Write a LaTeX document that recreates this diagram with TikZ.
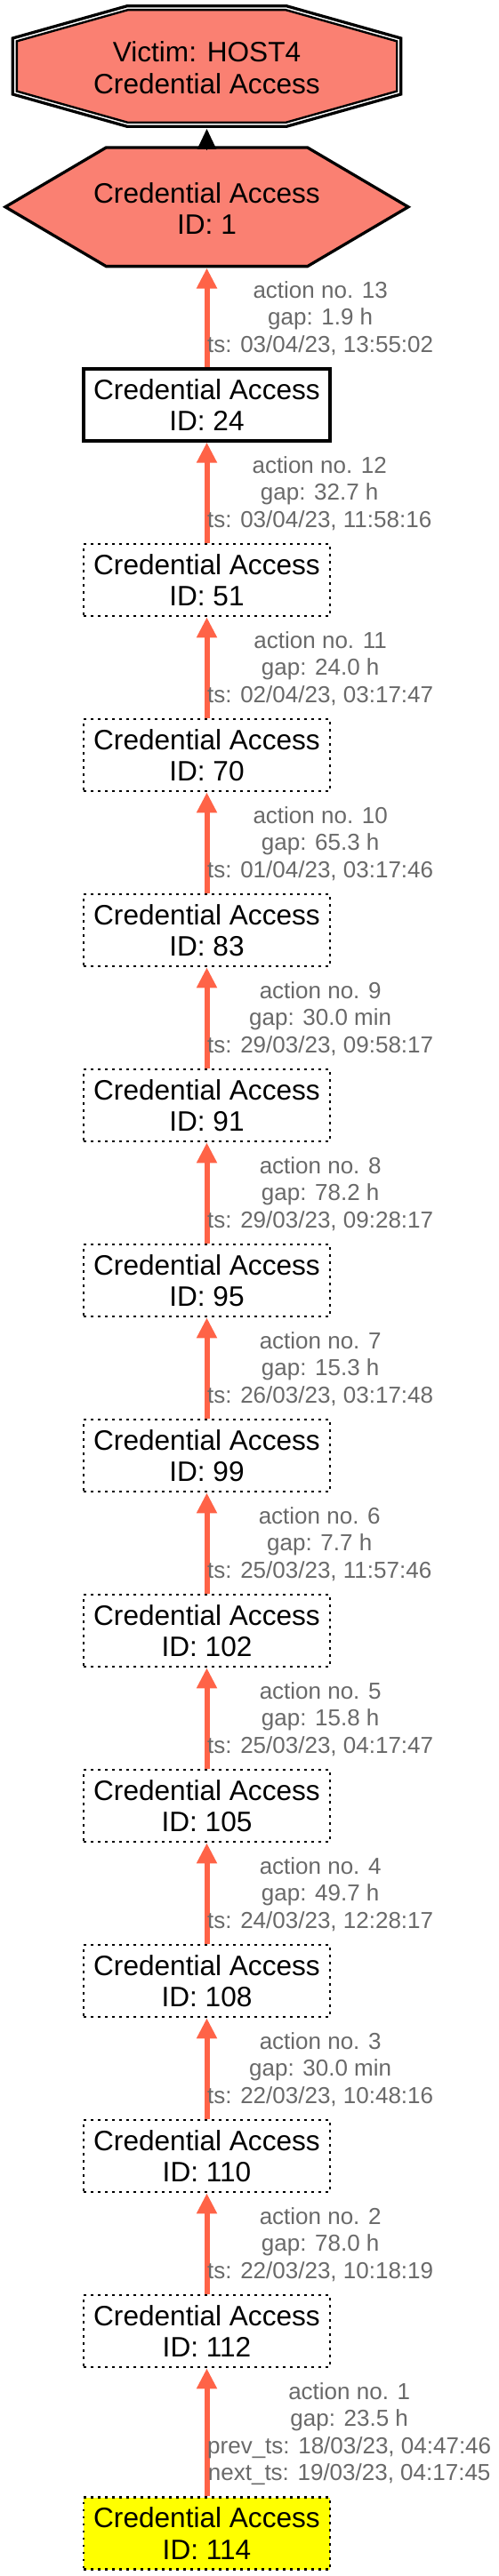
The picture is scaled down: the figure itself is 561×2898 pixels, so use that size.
\documentclass[tikz,border=0pt]{standalone}
\usepackage{fontspec}
\setmainfont{Liberation Sans}
\usetikzlibrary{arrows.meta}
\definecolor{salmonc}{HTML}{FA8072}
\definecolor{tomatoc}{HTML}{FF6347}
\definecolor{lblgray}{HTML}{696969}
\definecolor{yellowc}{HTML}{FFFF00}
\newcommand\mainf{\fontsize{31.6}{35.5}\selectfont}
\newcommand\lblf{\fontsize{26}{30.5}\selectfont}
\tikzset{
  boxbase/.style={rectangle, minimum width=277pt, minimum height=81pt, inner sep=0pt, align=center, font=\mainf},
  dotbox/.style={boxbase, draw=black, line width=2.7pt, dash pattern=on 2.7pt off 5.3pt},
  solidbox/.style={boxbase, draw=black, line width=3.3pt},
  lbl/.style={anchor=west, inner sep=0pt, align=center, text=lblgray, font=\lblf},
  redge/.style={draw=tomatoc, line width=6pt, -{Triangle[length=23pt,width=21.7pt,fill=tomatoc]}},
  bedge/.style={draw=black, line width=1.3pt, -{Triangle[length=23pt,width=21.5pt,fill=black]}}
}
\begin{document}
\begin{tikzpicture}[x=1pt,y=-1pt]
\useasboundingbox (0,0) rectangle (561,2898);
% victim octagon (double border)
\draw[line width=3.3pt] (143,6.7) -- (322,6.7) -- (450.7,43) -- (450.7,106) -- (322,142.3) -- (143,142.3) -- (14.3,106) -- (14.3,43) -- cycle;
\draw[line width=2.4pt, fill=salmonc] (143.6,11.2) -- (321.4,11.2) -- (446.2,46.4) -- (446.2,102.6) -- (321.4,137.8) -- (143.6,137.8) -- (18.8,102.6) -- (18.8,46.4) -- cycle;
\node[font=\mainf, align=center, inner sep=0pt] (victim) at (232.5,76) {Victim: HOST4\\Credential Access};
\coordinate (octBot) at (232.5,145);
% hexagon
\draw[line width=3.3pt, fill=salmonc] (6,232.8) -- (119.3,166) -- (345.7,166) -- (459,232.8) -- (345.7,299.6) -- (119.3,299.6) -- cycle;
\node[font=\mainf, align=center, inner sep=0pt] (hex) at (232.5,234.5) {Credential Access\\ID: 1};
\coordinate (hexTop) at (232.5,168.5);
\coordinate (hexBot) at (232.5,301.5);
\draw[bedge] (hexTop) -- (octBot);
% boxes
\node[solidbox] (b24) at (232.5,455.5) {Credential Access\\ID: 24};
\node[dotbox] (b51) at (232.5,652.5) {Credential Access\\ID: 51};
\node[dotbox] (b70) at (232.5,849.5) {Credential Access\\ID: 70};
\node[dotbox] (b83) at (232.5,1046.5) {Credential Access\\ID: 83};
\node[dotbox] (b91) at (232.5,1243.5) {Credential Access\\ID: 91};
\node[dotbox] (b95) at (232.5,1440.5) {Credential Access\\ID: 95};
\node[dotbox] (b99) at (232.5,1637.5) {Credential Access\\ID: 99};
\node[dotbox] (b102) at (232.5,1834.5) {Credential Access\\ID: 102};
\node[dotbox] (b105) at (232.5,2031.5) {Credential Access\\ID: 105};
\node[dotbox] (b108) at (232.5,2228.5) {Credential Access\\ID: 108};
\node[dotbox] (b110) at (232.5,2425.5) {Credential Access\\ID: 110};
\node[dotbox] (b112) at (232.5,2622.5) {Credential Access\\ID: 112};
\node[dotbox, fill=yellowc] (b114) at (232.5,2850) {Credential Access\\ID: 114};
% edges
\draw[redge] (b24) -- (hexBot);
\draw[redge] (b51) -- (b24);
\draw[redge] (b70) -- (b51);
\draw[redge] (b83) -- (b70);
\draw[redge] (b91) -- (b83);
\draw[redge] (b95) -- (b91);
\draw[redge] (b99) -- (b95);
\draw[redge] (b102) -- (b99);
\draw[redge] (b105) -- (b102);
\draw[redge] (b108) -- (b105);
\draw[redge] (b110) -- (b108);
\draw[redge] (b112) -- (b110);
\draw[redge] (b114) -- (b112);
% labels
\node[lbl] (l13) at (233,358) {action no. 13\\gap: 1.9 h\\ts: 03/04/23, 13:55:02};
\node[lbl] (l12) at (233,555) {action no. 12\\gap: 32.7 h\\ts: 03/04/23, 11:58:16};
\node[lbl] (l11) at (233,752) {action no. 11\\gap: 24.0 h\\ts: 02/04/23, 03:17:47};
\node[lbl] (l10) at (233,949) {action no. 10\\gap: 65.3 h\\ts: 01/04/23, 03:17:46};
\node[lbl] (l9) at (233,1146) {action no. 9\\gap: 30.0 min\\ts: 29/03/23, 09:58:17};
\node[lbl] (l8) at (233,1343) {action no. 8\\gap: 78.2 h\\ts: 29/03/23, 09:28:17};
\node[lbl] (l7) at (233,1540) {action no. 7\\gap: 15.3 h\\ts: 26/03/23, 03:17:48};
\node[lbl] (l6) at (233,1737) {action no. 6\\gap: 7.7 h\\ts: 25/03/23, 11:57:46};
\node[lbl] (l5) at (233,1934) {action no. 5\\gap: 15.8 h\\ts: 25/03/23, 04:17:47};
\node[lbl] (l4) at (233,2131) {action no. 4\\gap: 49.7 h\\ts: 24/03/23, 12:28:17};
\node[lbl] (l3) at (233,2328) {action no. 3\\gap: 30.0 min\\ts: 22/03/23, 10:48:16};
\node[lbl] (l2) at (233,2525) {action no. 2\\gap: 78.0 h\\ts: 22/03/23, 10:18:19};
\node[lbl] (l1) at (233,2738) {action no. 1\\gap: 23.5 h\\prev\_ts: 18/03/23, 04:47:46\\next\_ts: 19/03/23, 04:17:45};
\end{tikzpicture}
\end{document}
